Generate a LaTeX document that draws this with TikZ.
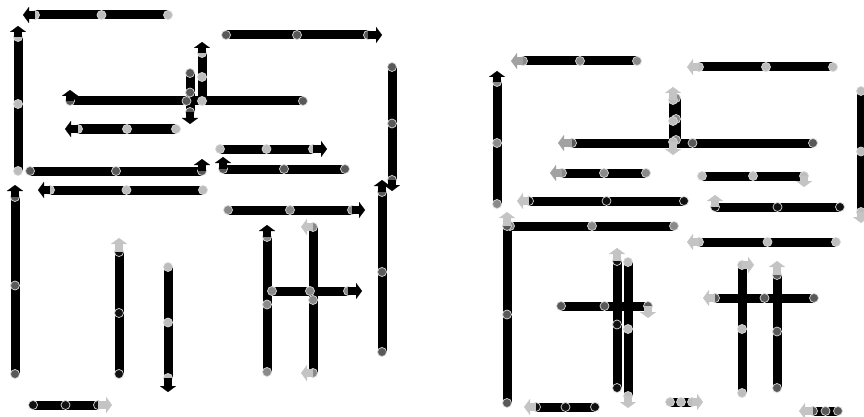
\documentclass[tikz,border=0pt]{standalone}
\usetikzlibrary{arrows.meta}
\pgfdeclarelayer{lines}
\pgfdeclarelayer{tips}
\pgfsetlayers{lines,main,tips}
\definecolor{cL}{HTML}{BDBDBD}
\definecolor{cM}{HTML}{8A8A8A}
\definecolor{cD}{HTML}{595959}
\definecolor{cB}{HTML}{111111}
\definecolor{aL}{HTML}{C4C4C4}
\definecolor{aM}{HTML}{A2A2A2}
\tikzset{
  segline/.style={line width=9pt, black},
  dot/.style={circle, minimum size=9pt, inner sep=0pt, draw=white!70!gray, line width=0.7pt},
  tipline/.style={line width=8.5pt, -{Triangle[length=6pt,width=16pt,line width=0.1pt]}},
}
\newcommand\HS[4]{%
  \begin{pgfonlayer}{lines}\draw[segline] (#2,#1) -- (#3,#1);\end{pgfonlayer}
  \node[dot,fill=#4] at (#2,#1) {};
  \node[dot,fill=#4] at ({(#2+#3)/2},#1) {};
  \node[dot,fill=#4] at (#3,#1) {};}
\newcommand\VS[4]{%
  \begin{pgfonlayer}{lines}\draw[segline] (#1,#2) -- (#1,#3);\end{pgfonlayer}
  \node[dot,fill=#4] at (#1,#2) {};
  \node[dot,fill=#4] at (#1,{(#2+#3)/2}) {};
  \node[dot,fill=#4] at (#1,#3) {};}
\newcommand\AR[5]{%
  \begin{pgfonlayer}{tips}\draw[tipline,draw=#5] (#1,#2) -- ++(#3,#4);\end{pgfonlayer}}
\begin{document}
\begin{tikzpicture}[x=1pt,y=-1pt]
\useasboundingbox (0,0) rectangle (864,417);
% ---------- left panel ----------
\HS{15}{35}{168}{cL}   \AR{35}{15}{-12}{0}{black}
\VS{18}{37}{171}{cL}   \AR{18}{37}{0}{-11}{black}
\HS{101}{70}{303}{cD}  \AR{70}{101}{0}{-11}{black}
\VS{202}{53}{101}{cL}  \AR{202}{53}{0}{-11}{black}
\VS{190}{73}{112}{cD}  \AR{190}{112}{0}{12}{black}
\HS{129}{78}{176}{cL}  \AR{78}{129}{-13}{0}{black}
\HS{35}{226}{368}{cD}  \AR{368}{35}{14}{0}{black}
\VS{392}{67}{180}{cD}  \AR{392}{180}{0}{11}{black}
\HS{171}{30}{202}{cD}  \AR{202}{171}{0}{-12}{black}
\HS{190}{50}{203}{cL}  \AR{50}{190}{-12}{0}{black}
\VS{15}{197}{374}{cD}  \AR{15}{197}{0}{-12}{black}
\VS{119}{252}{374}{cB} \AR{119}{252}{0}{-14}{aL}
\VS{168}{267}{378}{cL} \AR{168}{378}{0}{14}{black}
\HS{149}{220}{313}{cL} \AR{313}{149}{14}{0}{black}
\HS{169}{223}{345}{cD} \AR{223}{169}{0}{-12}{black}
\VS{382}{192}{352}{cD} \AR{382}{192}{0}{-12}{black}
\HS{210}{228}{352}{cM} \AR{352}{210}{13}{0}{black}
\VS{267}{237}{372}{cM} \AR{267}{237}{0}{-12}{black}
\VS{313}{227}{373}{cM} \AR{313}{227}{-12}{0}{aL} \AR{313}{373}{-12}{0}{aL}
\HS{291}{272}{348}{cM} \AR{348}{291}{14}{0}{black}
\HS{405}{33}{98}{cB}   \AR{98}{405}{14}{0}{aL}
% ---------- right panel ----------
\HS{61}{523}{637}{cM}  \AR{523}{61}{-12}{0}{aM}
\VS{497}{82}{204}{cM}  \AR{497}{82}{0}{-11}{black}
\HS{143}{572}{813}{cD} \AR{572}{143}{-14}{0}{aM}
\HS{173}{562}{646}{cM} \AR{562}{173}{-12}{0}{aM}
\VS{676}{98}{140}{cM}
\VS{673}{100}{142}{cL} \AR{673}{100}{0}{-13}{aL} \AR{673}{142}{0}{13}{aL}
\HS{67}{699}{833}{cL}  \AR{699}{67}{-12}{0}{aL}
\VS{861}{91}{212}{cL}  \AR{861}{212}{0}{11}{aL}
\HS{176}{702}{804}{cL} \AR{804}{176}{0}{11}{aL}
\HS{201}{529}{684}{cB} \AR{529}{201}{-12}{0}{aL}
\HS{226}{510}{674}{cM}
\VS{507}{226}{403}{cD} \AR{507}{226}{0}{-14}{aL}
\VS{617}{261}{388}{cB} \AR{617}{261}{0}{-13}{aL}
\VS{628}{262}{396}{cL} \AR{628}{396}{0}{12}{aL}
\HS{207}{715}{840}{cB} \AR{715}{207}{0}{-12}{aL}
\HS{242}{699}{836}{cL} \AR{699}{242}{-12}{0}{aL}
\VS{742}{265}{393}{cL} \AR{742}{265}{12}{0}{aL}
\VS{777}{275}{388}{cD} \AR{777}{275}{0}{-14}{aL}
\HS{306}{561}{648}{cD} \AR{648}{306}{0}{12}{aL}
\HS{407}{536}{595}{cB} \AR{536}{407}{-12}{0}{aL}
\HS{402}{670}{692}{cL} \AR{692}{402}{11}{0}{aL}
\HS{298}{715}{814}{cD} \AR{715}{298}{-12}{0}{aL}
\HS{411}{813}{838}{cD} \AR{813}{411}{-14}{0}{aL}
\end{tikzpicture}
\end{document}
